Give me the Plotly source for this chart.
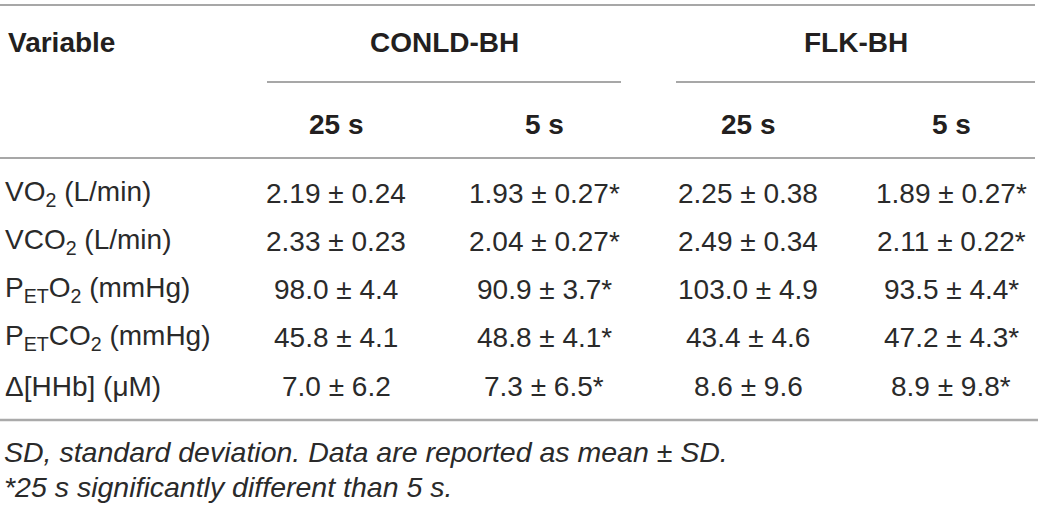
import plotly.graph_objects as go

variables = ['VO<sub>2</sub> (L/min)', 'VCO<sub>2</sub> (L/min)', 'P<sub>ET</sub>O<sub>2</sub> (mmHg)',
             'P<sub>ET</sub>CO<sub>2</sub> (mmHg)', 'Δ[HHb] (μM)']
groups = ['CONLD-BH', 'FLK-BH']
durations = ['25 s', '5 s', '25 s', '5 s']
conld_25 = ['2.19 ± 0.24', '2.33 ± 0.23', '98.0 ± 4.4', '45.8 ± 4.1', '7.0 ± 6.2']
conld_5 = ['1.93 ± 0.27*', '2.04 ± 0.27*', '90.9 ± 3.7*', '48.8 ± 4.1*', '7.3 ± 6.5*']
flk_25 = ['2.25 ± 0.38', '2.49 ± 0.34', '103.0 ± 4.9', '43.4 ± 4.6', '8.6 ± 9.6']
flk_5 = ['1.89 ± 0.27*', '2.11 ± 0.22*', '93.5 ± 4.4*', '47.2 ± 4.3*', '8.9 ± 9.8*']
footnotes = ['SD, standard deviation. Data are reported as mean ± SD.',
             '*25 s significantly different than 5 s.']

W, H = 1040, 505
txt = '#231f20'
col_x = [336, 544, 748, 951]
group_x = [444, 856]
row_y = [193, 241, 289, 337, 386]

fig = go.Figure()
fig.update_layout(
    width=W, height=H,
    margin=dict(l=0, r=0, t=0, b=0),
    paper_bgcolor='#FFFFFF', plot_bgcolor='#FFFFFF',
    xaxis=dict(range=[0, W], visible=False, fixedrange=True),
    yaxis=dict(range=[H, 0], visible=False, fixedrange=True),
    font=dict(family='Liberation Sans, Arial, sans-serif', color=txt),
    showlegend=False,
)

def text(x, y, s, size=28, bold=False, italic=False, anchor='center', color='#2a2a2a'):
    if bold:
        s = '<b>' + s + '</b>'
        color = txt
    if italic:
        s = '<i>' + s + '</i>'
    fig.add_annotation(x=x, y=y, xref='x', yref='y', text=s, showarrow=False,
                       xanchor=anchor, yanchor='middle',
                       font=dict(size=size, color=color))

# header
text(6, 42, 'Variable', bold=True, anchor='left')
for g, gx in zip(groups, group_x):
    text(gx, 42, g, bold=True)
for d, cx in zip(durations, col_x):
    text(cx, 124, d, bold=True)

# body
columns = [conld_25, conld_5, flk_25, flk_5]
for i, v in enumerate(variables):
    text(3, row_y[i], v, anchor='left')
    for col, cx in zip(columns, col_x):
        text(cx, row_y[i], col[i])

# footnotes
text(2, 452, footnotes[0], size=28.5, italic=True, anchor='left')
text(2, 487, footnotes[1], size=28.5, italic=True, anchor='left')

# rules
def rule(x0, x1, y, color='#8a8a8a', width=1.5):
    fig.add_shape(type='line', x0=x0, x1=x1, y0=y, y1=y, xref='x', yref='y',
                  line=dict(color=color, width=width))

rule(0, 1035, 5)
rule(267, 621, 82)
rule(676, 1035, 82)
rule(0, 1035, 158)
rule(0, 1038, 420, color='#aaaaaa', width=2.5)

fig.write_html('out.html', config={'displayModeBar': False},
               post_script="document.body.style.margin='0';")
